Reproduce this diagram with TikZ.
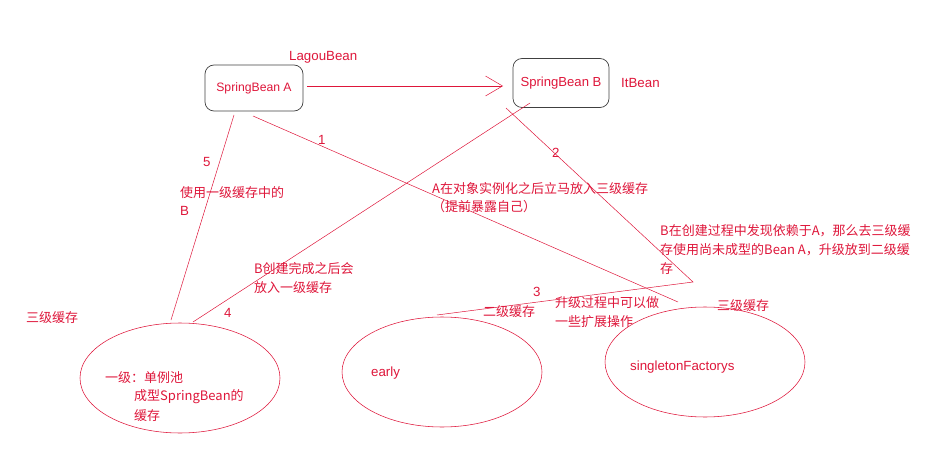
\documentclass[tikz,border=0pt]{standalone}
\usepackage{fontspec}
\setmainfont{Noto Sans CJK SC}
\newfontfamily\latinf{Liberation Sans}
\usetikzlibrary{arrows.meta,shapes.geometric}
\definecolor{rd}{RGB}{222,22,58}
\begin{document}
\begin{tikzpicture}[x=1pt,y=-1pt,
  txt/.style={text=rd,font=\fontsize{13}{19}\selectfont,inner sep=0pt,anchor=west,align=left},
  lat/.style={txt,font=\latinf\fontsize{13.3}{16}\selectfont},
  bean/.style={draw=black!75,line width=0.7pt,rounded corners=9pt,text=rd,font=\latinf\fontsize{12.2}{14}\selectfont},
  pool/.style={draw=rd,line width=0.55pt,ellipse,minimum width=200pt,minimum height=110pt,inner sep=0pt},
  ln/.style={draw=rd,line width=0.5pt}]
\useasboundingbox (0,0) rectangle (936,462);
% boxes
\node[bean,minimum width=98pt,minimum height=46pt] (A) at (254,88) {SpringBean A};
\node[bean,minimum width=96pt,minimum height=49pt,font=\latinf\fontsize{13.1}{15}\selectfont] (B) at (561,83) {SpringBean B};
\node[lat] (lagou) at (289,57) {LagouBean};
\node[lat] (itb) at (621,83) {ItBean};
\draw[ln,-{Straight Barb[length=17pt,width=20pt,line width=0.5pt]}] (A.east)++(4,-2) coordinate (a0) -- (503,86) coordinate (a1);
% ellipses
\node[pool] (E1) at (180,378) {};
\node[pool] (E2) at (442,372) {};
\node[pool] (E3) at (705,362) {};
\node[txt] at (105,378) {一级：单例池};
\node[txt] at (134,397) {成型SpringBean的};
\node[txt] at (134,416) {缓存};
\node[lat] at (371,373) {early};
\node[lat] at (630,367) {singletonFactorys};
% line endpoints
\coordinate (p5a) at (234,115);
\coordinate (p5b) at (171,320);
\coordinate (p1a) at (253,116);
\coordinate (p1b) at (678,302);
\coordinate (p2a) at (506,108);
\coordinate (p2b) at (693,282);
\coordinate (p3b) at (437,315);
\coordinate (p4a) at (530,103);
\coordinate (p4b) at (193,322);
\draw[ln] (p5a) -- (p5b);
\draw[ln] (p1a) -- (p1b);
\draw[ln] (p2a) -- (p2b) -- (p3b);
\draw[ln] (p4a) -- (p4b);
% labels
\node[lat] at (203,162) {5};
\node[txt] at (180,193) {使用一级缓存中的};
\node[lat] at (180,211) {B};
\node[lat] at (318,140) {1};
\node[lat] at (552,153) {2};
\node[lat] at (533,292) {3};
\node[lat] at (224,313) {4};
\node[txt] at (254,269) {B创建完成之后会};
\node[txt] at (254,288) {放入一级缓存};
\node[txt] at (432,189) {A在对象实例化之后立马放入三级缓存};
\node[txt] at (432,207) {（提前暴露自己）};
\node[txt] at (660,231) {B在创建过程中发现依赖于A，那么去三级缓};
\node[txt] at (660,250) {存使用尚未成型的Bean A，升级放到二级缓};
\node[txt] at (660,269) {存};
\node[txt] at (483,312) {二级缓存};
\node[txt] at (555,303) {升级过程中可以做};
\node[txt] at (555,322) {一些扩展操作};
\node[txt] at (717,306) {三级缓存};
\node[txt] at (26,318) {三级缓存};
\end{tikzpicture}
\end{document}
